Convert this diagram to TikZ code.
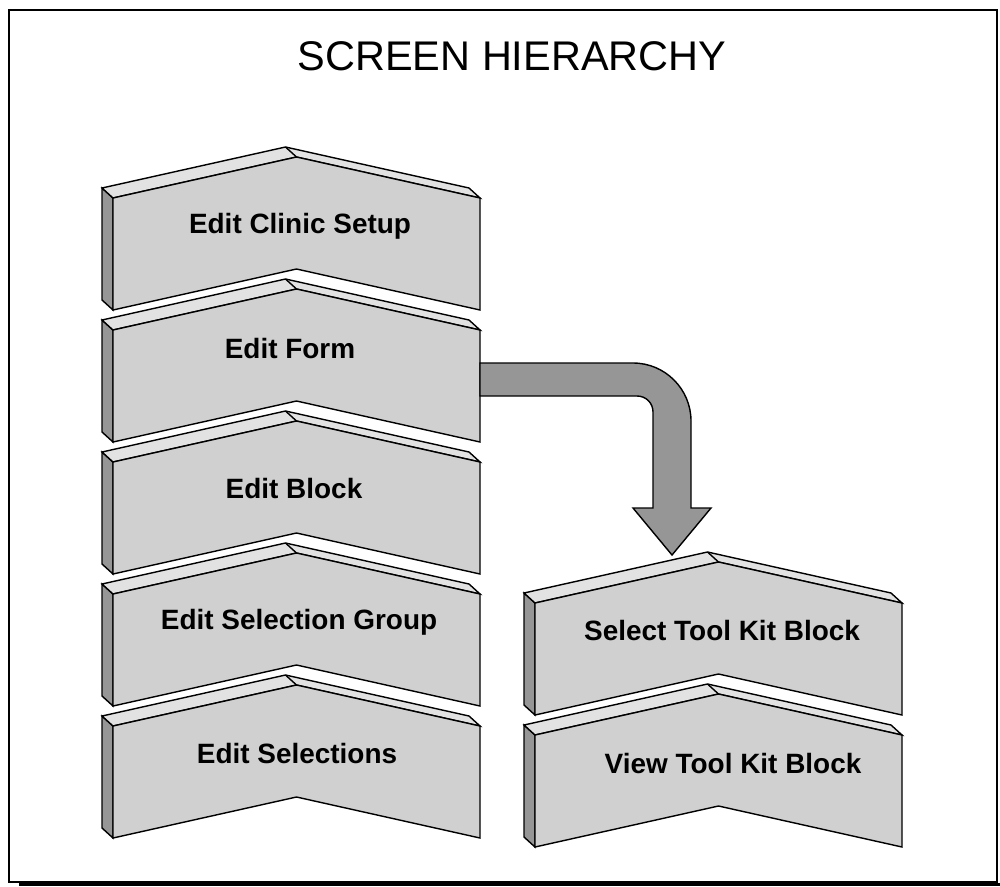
\documentclass[tikz,border=0pt]{standalone}
\usepackage{fontspec}
\setmainfont{Liberation Sans}
\definecolor{facegray}{RGB}{208,208,208}
\definecolor{sidegray}{RGB}{150,150,150}
\definecolor{topgray}{RGB}{226,226,226}
\definecolor{arrowgray}{RGB}{150,150,150}
\begin{document}
\begin{tikzpicture}[x=0.02cm, y=-0.02cm,
  frontface/.style={draw=black, fill=facegray, line width=0.8pt},
  sideface/.style={draw=black, fill=sidegray, line width=0.8pt},
  topface/.style={draw=black, fill=topgray, line width=0.8pt},
  bigarrow/.style={draw=black, fill=arrowgray, line width=0.8pt},
  blocklabel/.style={anchor=base, font=\fontsize{15.9}{19}\selectfont\bfseries},
  titlelabel/.style={anchor=base, font=\fontsize{23.6}{28}\selectfont}]
\useasboundingbox (0,0) rectangle (1000,886);
% Set the block dimensions (in pixels of the sheet)
\def\blockw{367} % front width
\def\blockh{112} % front height
\def\rise{41}    % height of the peak

% One chevron block: side, top and front faces
\def\screenblock#1#2{%
  \filldraw[sideface] (#1,#2) -- (#1-11,#2-10) -- (#1-11,#2+\blockh-10) -- (#1,#2+\blockh) -- cycle;
  \filldraw[topface] (#1,#2) -- (#1-11,#2-10) -- (#1+\blockw/2-11,#2-\rise-10) -- (#1+\blockw-11,#2-10) -- (#1+\blockw,#2) -- (#1+\blockw/2,#2-\rise) -- cycle;
  \draw[line width=0.8pt] (#1+\blockw/2-11,#2-\rise-10) -- (#1+\blockw/2,#2-\rise);
  \filldraw[frontface] (#1,#2) -- (#1+\blockw/2,#2-\rise) -- (#1+\blockw,#2) -- (#1+\blockw,#2+\blockh) -- (#1+\blockw/2,#2+\blockh-\rise) -- (#1,#2+\blockh) -- cycle;
}

% Frame of the sheet
\draw[line width=0.8pt] (9,10) rectangle (997,882);
\draw[line width=0.06cm] (19,884.5) -- (1000,884.5);

% Title
\node[titlelabel] (title) at (512,70) {SCREEN HIERARCHY};

% Left column
\screenblock{113}{198}
\node[blocklabel] (clinic) at (300,233) {Edit Clinic Setup};
\screenblock{113}{330}
\node[blocklabel] (form) at (290,358) {Edit Form};
\screenblock{113}{462}
\node[blocklabel] (block) at (294,498) {Edit Block};
\screenblock{113}{594}
\node[blocklabel] (selgroup) at (299,629) {Edit Selection Group};
\screenblock{113}{726}
\node[blocklabel] (selections) at (297,763) {Edit Selections};

% Right column
\screenblock{535}{603}
\node[blocklabel] (selecttk) at (722,640) {Select Tool Kit Block};
\screenblock{535}{735}
\node[blocklabel] (viewtk) at (733,773) {View Tool Kit Block};

% Bent arrow from Edit Form down to Select Tool Kit Block
\coordinate (arrowstart) at (480,363);
\filldraw[bigarrow] (arrowstart) -- ++(153,0) .. controls +(32,0) and +(0,-32) .. ++(58,58)
  -- ++(0,87) -- ++(20,0) -- ++(-39,47) -- ++(-39,-47) -- ++(20,0) -- ++(0,-96)
  .. controls +(0,-9) and +(9,0) .. ++(-16,-16) -- ++(-157,0) -- cycle;
\end{tikzpicture}
\end{document}
